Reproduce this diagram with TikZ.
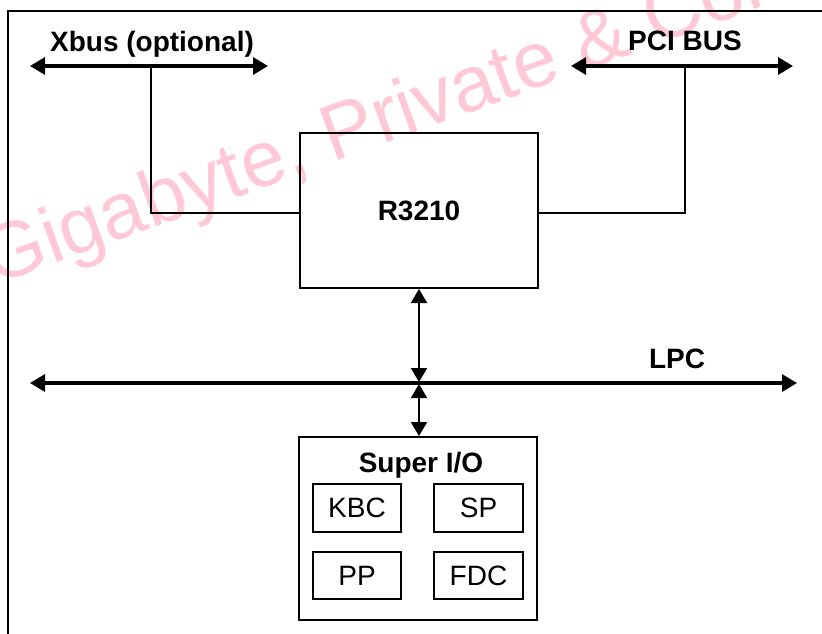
\documentclass[tikz,border=0pt]{standalone}
\usepackage{fontspec}
\setmainfont{Liberation Sans}
\usetikzlibrary{arrows.meta,calc}
\definecolor{wmpink}{RGB}{255,200,214}
\tikzset{
  frameline/.style={line width=0.7pt},
  blockbox/.style={draw, line width=1pt, rectangle, inner sep=0pt},
  subbox/.style={draw, line width=0.9pt, rectangle, inner sep=0pt, minimum width=44pt, font=\fontsize{14}{16}\selectfont},
  buslabel/.style={font=\bfseries\fontsize{14}{16}\selectfont, anchor=base, inner sep=0pt},
  busline/.style={line width=1.6pt, {Triangle[length=7.5pt,width=8.5pt]}-{Triangle[length=7.5pt,width=8.5pt]}},
  thinarrow/.style={line width=1pt, {Triangle[length=7pt,width=8pt]}-{Triangle[length=7pt,width=8pt]}},
  wire/.style={line width=1pt},
  watermark/.style={text=wmpink, font=\fontsize{39.5}{42}\selectfont, anchor=base west, rotate=20, inner sep=0pt}
}
\begin{document}
\begin{tikzpicture}[x=0.5pt,y=-0.5pt]
\useasboundingbox (0,0) rectangle (822,633);
\begin{scope}
\clip (0,0) rectangle (822,633);
\node[watermark] (wm) at (-6,286) {Gigabyte, Private \& Confidential};
\draw[frameline] (8,640) -- (8,11) -- (830,11);
\end{scope}

% blocks
\node[blockbox, minimum width=119pt, minimum height=77.5pt] (r3210) at (419,210.5) {};
\node[buslabel] (r3210lbl) at (419,220) {R3210};
\node[blockbox, minimum width=119pt, minimum height=91.5pt] (superio) at (418,528.5) {};
\node[buslabel] (siolbl) at (421,472) {Super I/O};
\node[subbox, minimum height=24pt] (kbc) at (357,508) {KBC};
\node[subbox, minimum height=24pt, minimum width=44.5pt] (sp) at (478.5,508) {SP};
\node[subbox, minimum height=23.5pt] (pp) at (357,575.5) {PP};
\node[subbox, minimum height=23.5pt, minimum width=44.5pt] (fdc) at (478.5,575.5) {FDC};

% buses
\coordinate (xbl) at (30,66);
\coordinate (xbr) at (268,66);
\coordinate (xbj) at (151,66);
\coordinate (pcl) at (571,66);
\coordinate (pcr) at (793,66);
\coordinate (pcj) at (685,66);
\coordinate (lpl) at (30,383);
\coordinate (lpr) at (797,383);
\coordinate (lpj) at (419,383);

\draw[wire] (xbj) |- ([yshift=-1.25pt]r3210.west);
\draw[wire] (pcj) |- ([yshift=-1.25pt]r3210.east);
\draw[busline] (xbl) -- (xbr);
\draw[busline] (pcl) -- (pcr);
\draw[busline] (lpl) -- (lpr);

\node[buslabel] (xblbl) at (152,51) {Xbus (optional)};
\node[buslabel] (pcilbl) at (685,50) {PCI BUS};
\node[buslabel] (lpclbl) at (677,368) {LPC};

\draw[thinarrow] (lpj |- r3210.south) -- ([yshift=0.5pt]lpj);
\draw[thinarrow] ([yshift=-0.5pt]lpj) -- (lpj |- superio.north);
\end{tikzpicture}
\end{document}
